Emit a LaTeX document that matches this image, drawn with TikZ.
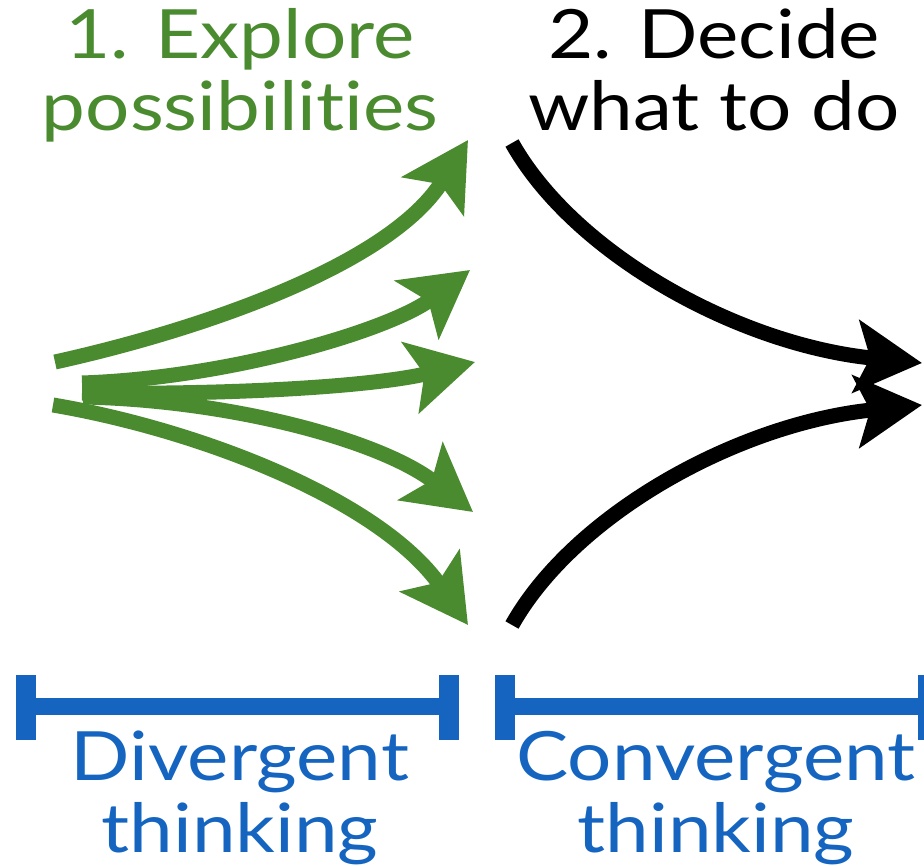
\documentclass[tikz,border=0pt]{standalone}
\usepackage{fontspec}
\setmainfont{Lato}[FakeStretch=1.15, Ligatures=NoCommon]
\usepackage{tikz}
\usetikzlibrary{arrows.meta}
\definecolor{explgreen}{HTML}{4A8B2F}
\definecolor{spanblue}{HTML}{1565C0}
\tikzset{
  fan/.style={line width=15pt, -{Stealth[length=66pt,width=72pt,inset=14pt]}},
  spanbar/.style={line width=17pt, spanblue},
  spantick/.style={line width=20pt, spanblue},
  heading/.style={align=center, inner sep=0pt, font=\fontsize{68}{72}\selectfont},
}

\begin{document}
\begin{tikzpicture}[x=1pt,y=-1pt]
\useasboundingbox (0,0) rectangle (924,866);
% headings
\node[heading, explgreen, anchor=north] (explore) at (240,8) {1. Explore\\possibilities};
\node[heading, anchor=north] (decide) at (714,8) {2. Decide\\what to do};
% diverging arrows
\draw[fan, explgreen] (55,362) .. controls (200,330) and (390,265) .. (468,140);
\draw[fan, explgreen] (82,383) .. controls (230,378) and (390,330) .. (470,270);
\draw[fan, explgreen] (82,393) .. controls (250,395) and (380,385) .. (475,362);
\draw[fan, explgreen] (83,397) .. controls (230,400) and (380,440) .. (473,512);
\draw[fan, explgreen] (53,405) .. controls (200,430) and (380,500) .. (468,625);
% converging arrows
\draw[fan] (512,143) .. controls (575,255) and (740,345) .. (922,363);
\draw[fan] (512,625) .. controls (575,513) and (740,423) .. (922,405);
% spans
\foreach \a/\b in {26/449, 505/928} {
  \draw[spanbar] (\a,706) -- (\b,706);
  \draw[spantick] (\a,675) -- (\a,740);
  \draw[spantick] (\b,675) -- (\b,740);
}
\node[heading, spanblue, anchor=north] (diverge) at (240,731) {Divergent\\thinking};
\node[heading, spanblue, anchor=north] (converge) at (716,731) {Convergent\\thinking};
\end{tikzpicture}
\end{document}
